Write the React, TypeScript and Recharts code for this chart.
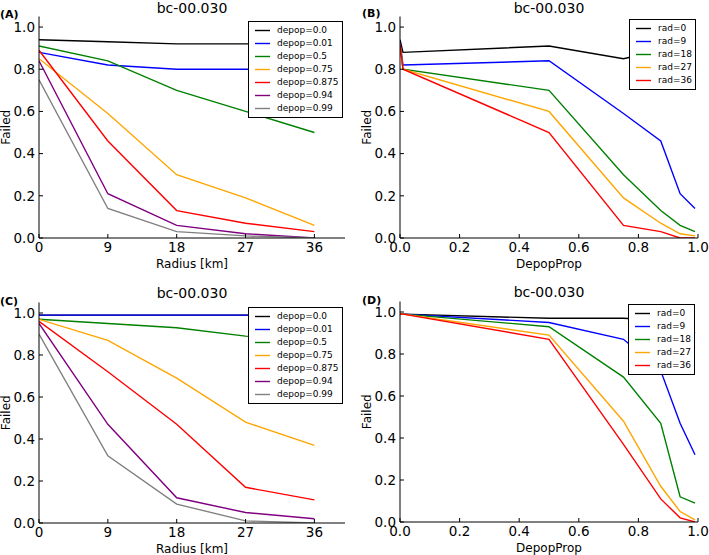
import { LineChart, Line, XAxis, YAxis, Legend } from 'recharts'

// x values
const radii = [0, 9, 18, 27, 36]
const depopLevels = [0.0, 0.01, 0.5, 0.75, 0.875, 0.94, 0.99]
const depopNames = ['0.0', '0.01', '0.5', '0.75', '0.875', '0.94', '0.99']
const radTicks = [0, 9, 18, 27, 36]
const propTicks = [0, 0.2, 0.4, 0.6, 0.8, 1.0]
const failTicks = [0, 0.2, 0.4, 0.6, 0.8, 1.0]
const colors = ['#000000', '#0000ff', '#008000', '#ffa500', '#ff0000', '#800080', '#808080']

// top row: failed fraction by radius, one array per depop level
const topDepop00 = [0.94, 0.93, 0.92, 0.92, 0.92]
const topDepop001 = [0.88, 0.82, 0.8, 0.8, 0.8]
const topDepop05 = [0.91, 0.84, 0.7, 0.6, 0.5]
const topDepop075 = [0.85, 0.59, 0.3, 0.19, 0.06]
const topDepop0875 = [0.89, 0.46, 0.13, 0.07, 0.03]
const topDepop094 = [0.84, 0.21, 0.06, 0.02, 0.0]
const topDepop099 = [0.75, 0.14, 0.03, 0.01, 0.0]

// bottom row
const botDepop00 = [0.99, 0.99, 0.99, 0.99, 0.99]
const botDepop001 = [0.99, 0.99, 0.99, 0.99, 0.99]
const botDepop05 = [0.97, 0.95, 0.93, 0.89, 0.87]
const botDepop075 = [0.97, 0.87, 0.69, 0.48, 0.37]
const botDepop0875 = [0.96, 0.72, 0.47, 0.17, 0.11]
const botDepop094 = [0.95, 0.47, 0.12, 0.05, 0.02]
const botDepop099 = [0.9, 0.32, 0.09, 0.01, 0.0]

const topRows = [topDepop00, topDepop001, topDepop05, topDepop075, topDepop0875, topDepop094, topDepop099]
const botRows = [botDepop00, botDepop001, botDepop05, botDepop075, botDepop0875, botDepop094, botDepop099]

// by radius: one row per radius, one key per depop level
const byRadius = (rows: number[][]) =>
  radii.map((r, j) => {
    const row: Record<string, number> = { x: r }
    rows.forEach((s, i) => (row['d' + i] = s[j]))
    return row
  })

// by depop: one row per depop level, one key per radius
const byDepop = (rows: number[][]) =>
  depopLevels.map((d, i) => {
    const row: Record<string, number> = { x: d }
    radii.forEach((r, j) => (row['r' + r] = rows[i][j]))
    return row
  })

type Series = { key: string; name: string; color: string }
const depopSeries: Series[] = depopNames.map((n, i) => ({ key: 'd' + i, name: 'depop=' + n, color: colors[i] }))
const radSeries: Series[] = radii.map((r, j) => ({ key: 'r' + r, name: 'rad=' + r, color: colors[j] }))

const FONT = 'DejaVu Sans'
const tickStyle = { fill: '#000', fontSize: 13.5, fontFamily: FONT }

// legend rows follow the series order (recharts would sort them by name)
function LegendBox({ series }: { series: Series[] }) {
  return (
    <div style={{ border: '1px solid #000', background: '#fff', padding: '2px 3px 2px 6px', fontSize: 9, lineHeight: '13px', fontFamily: FONT, color: '#000' }}>
      {series.map((s) => (
        <div key={s.key} style={{ height: 13, whiteSpace: 'nowrap' }}>
          <svg width={15} height={13} style={{ verticalAlign: 'top', marginRight: 7 }}>
            <line x1={0} x2={15} y1={6.5} y2={6.5} stroke={s.color} strokeWidth={1.4} />
          </svg>
          <span>{s.name}</span>
        </div>
      ))}
    </div>
  )
}

type PanelProps = {
  left: number
  top: number
  width: number
  height: number
  yAxisW: number
  mTop: number
  mRight: number
  xAxisH: number
  data: Record<string, number>[]
  series: Series[]
  xDomain: [number, number]
  xTicks: number[]
  xFmt: (v: number) => string
  xLabel: string
  xLabelOffset: number
  yLabelOffset: number
  legendLeft: number
  legendTop: number
  letter: string
  letterLeft: number
  letterTop: number
  titleTop: number
}

function Panel(p: PanelProps) {
  const plotW = p.width - p.yAxisW - p.mRight
  return (
    <div style={{ position: 'absolute', left: p.left, top: p.top, width: p.width, height: p.height }}>
      <LineChart width={p.width} height={p.height} data={p.data} margin={{ top: p.mTop, right: p.mRight, bottom: 0, left: 0 }}>
        <XAxis
          dataKey="x"
          type="number"
          domain={p.xDomain}
          ticks={p.xTicks}
          allowDataOverflow
          height={p.xAxisH}
          tickSize={-4}
          tickMargin={8.5}
          tickFormatter={p.xFmt}
          tick={tickStyle}
          stroke="#000"
          label={{ value: p.xLabel, position: 'insideBottom', offset: p.xLabelOffset, fill: '#000', fontSize: 12 }}
        />
        <XAxis
          xAxisId="top"
          orientation="top"
          type="number"
          domain={p.xDomain}
          ticks={p.xTicks}
          allowDataOverflow
          height={0}
          tickSize={-4}
          tickFormatter={() => ''}
          stroke="#000"
        />
        <YAxis
          type="number"
          domain={[0, 1.05]}
          ticks={failTicks}
          allowDataOverflow
          width={p.yAxisW}
          tickSize={-4}
          tickMargin={8}
          tickFormatter={(v: number) => v.toFixed(1)}
          tick={tickStyle}
          stroke="#000"
          label={{ value: 'Failed', angle: -90, position: 'insideLeft', offset: p.yLabelOffset, fill: '#000', fontSize: 12, style: { textAnchor: 'middle' } }}
        />
        <YAxis
          yAxisId="right"
          orientation="right"
          type="number"
          domain={[0, 1.05]}
          ticks={failTicks}
          allowDataOverflow
          width={0}
          tickSize={-4}
          tickFormatter={() => ''}
          stroke="#000"
        />
        {p.series.map((s) => (
          <Line
            key={s.key}
            dataKey={s.key}
            name={s.name}
            type="linear"
            stroke={s.color}
            strokeWidth={1.4}
            dot={false}
            isAnimationActive={false}
          />
        ))}
        <Legend
          layout="vertical"
          align="center"
          verticalAlign="middle"
          content={<LegendBox series={p.series} />}
          wrapperStyle={{ left: p.legendLeft, top: p.legendTop, width: 'auto', height: 'auto' }}
        />
      </LineChart>
      <div
        style={{
          position: 'absolute',
          left: p.yAxisW,
          width: plotW,
          top: p.titleTop,
          textAlign: 'center',
          fontSize: 14,
          lineHeight: '14px',
          fontFamily: FONT,
        }}
      >
        bc-00.030
      </div>
      <div
        style={{
          position: 'absolute',
          left: p.letterLeft,
          top: p.letterTop,
          fontSize: 11,
          lineHeight: '11px',
          fontWeight: 'bold',
          fontFamily: FONT,
        }}
      >
        {p.letter}
      </div>
    </div>
  )
}

const fmtRad = (v: number) => String(v)
const fmtProp = (v: number) => v.toFixed(1)

export default function App() {
  return (
    <div style={{ position: 'absolute', left: 0, top: 0, width: 709, height: 555, background: '#fff', fontFamily: FONT }}>
      <Panel
        left={0} top={0} width={355} height={277}
        yAxisW={39} mTop={16.5} mRight={10} xAxisH={39}
        data={byRadius(topRows)} series={depopSeries}
        xDomain={[0, 40]} xTicks={radTicks} xFmt={fmtRad}
        xLabel="Radius [km]" xLabelOffset={9.5} yLabelOffset={6}
        legendLeft={248} legendTop={21}
        letter="(A)" letterLeft={0} letterTop={9} titleTop={0.7}
      />
      <Panel
        left={355} top={0} width={354} height={277}
        yAxisW={45} mTop={16.5} mRight={11} xAxisH={39}
        data={byDepop(topRows)} series={radSeries}
        xDomain={[0, 1]} xTicks={propTicks} xFmt={fmtProp}
        xLabel="DepopProp" xLabelOffset={9.5} yLabelOffset={12}
        legendLeft={274} legendTop={19}
        letter="(B)" letterLeft={7} letterTop={8} titleTop={0.7}
      />
      <Panel
        left={0} top={277} width={355} height={278}
        yAxisW={39} mTop={25.5} mRight={10} xAxisH={32}
        data={byRadius(botRows)} series={depopSeries}
        xDomain={[0, 40]} xTicks={radTicks} xFmt={fmtRad}
        xLabel="Radius [km]" xLabelOffset={2.5} yLabelOffset={6}
        legendLeft={248} legendTop={30}
        letter="(C)" letterLeft={0} letterTop={18.5} titleTop={8.5}
      />
      <Panel
        left={355} top={277} width={354} height={278}
        yAxisW={45} mTop={24.5} mRight={11} xAxisH={33}
        data={byDepop(botRows)} series={radSeries}
        xDomain={[0, 1]} xTicks={propTicks} xFmt={fmtProp}
        xLabel="DepopProp" xLabelOffset={3} yLabelOffset={12}
        legendLeft={273} legendTop={27}
        letter="(D)" letterLeft={7} letterTop={17.5} titleTop={7.7}
      />
    </div>
  )
}
